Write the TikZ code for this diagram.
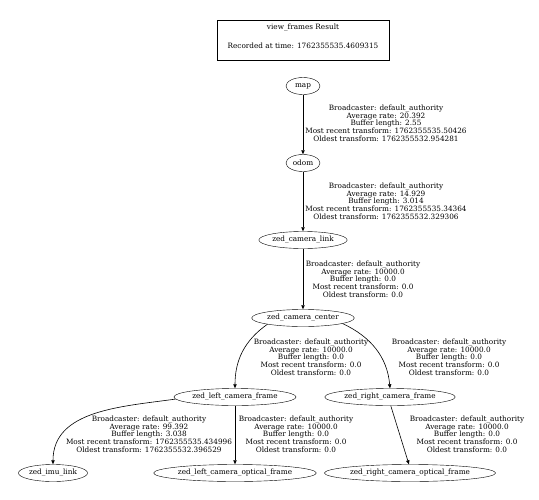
\documentclass[tikz,border=0pt]{standalone}
\usepackage{fontspec}
\setmainfont{DejaVu Serif}
\usetikzlibrary{arrows.meta,shapes.geometric}

\newcommand{\tfsize}{\fontsize{7.3}{7.7}\selectfont}
\newcommand{\tfinfo}[4]{Broadcaster: default\_authority\\Average rate: #1\\Buffer length: #2\\Most recent transform: #3\\Oldest transform: #4}

\tikzset{
	frame/.style={draw, ellipse, inner xsep=0.5pt, inner ysep=0pt, minimum height=17pt, minimum width=34pt, font=\tfsize},
	tf/.style={align=center, font=\tfsize},
	link/.style={-{Triangle[length=4pt,width=3.4pt]}, line width=0.6pt},
}

\begin{document}
\begin{tikzpicture}[x=1pt,y=-1pt]
	\useasboundingbox (0,0) rectangle (539,499);
	\node[draw, thick, minimum width=172pt, minimum height=39pt, align=center, font=\tfsize] (title) at (303,40.5) {view\_frames Result\\[10.6pt]Recorded at time: 1762355535.4609315\\[1pt]\mbox{}};
	% frames
	\node[frame] (map) at (303,86) {map};
	\node[frame] (odom) at (303,163) {odom};
	\node[frame] (zlink) at (303,240) {zed\_camera\_link};
	\node[frame] (zcenter) at (303,318) {zed\_camera\_center};
	\node[frame] (lframe) at (235,397) {zed\_left\_camera\_frame};
	\node[frame] (rframe) at (390,397) {zed\_right\_camera\_frame};
	\node[frame] (imu) at (53,473) {zed\_imu\_link};
	\node[frame] (lopt) at (235,473) {zed\_left\_camera\_optical\_frame};
	\node[frame] (ropt) at (410,473) {zed\_right\_camera\_optical\_frame};
	% transforms
	\draw[link] (map) -- (odom);
	\draw[link] (odom) -- (zlink);
	\draw[link] (zlink) -- (zcenter);
	\draw[link] (zcenter.190) to[out=215,in=90] (lframe.north);
	\draw[link] (zcenter.-8) to[out=-25,in=95] (rframe.north);
	\draw[link] (lframe.182) to[out=188,in=90] (imu.north);
	\draw[link] (lframe) -- (lopt);
	\draw[link] (rframe.-85) -- (ropt.97);
	% edge labels
	\node[tf] (tmap) at (386,123) {\tfinfo{20.392}{2.55}{1762355535.50426}{1762355532.954281}};
	\node[tf] (todom) at (386,201) {\tfinfo{14.929}{3.014}{1762355535.34364}{1762355532.329306}};
	\node[tf] (tlink) at (363,279) {\tfinfo{10000.0}{0.0}{0.0}{0.0}};
	\node[tf] (tleft) at (311,357) {\tfinfo{10000.0}{0.0}{0.0}{0.0}};
	\node[tf] (tright) at (449,357) {\tfinfo{10000.0}{0.0}{0.0}{0.0}};
	\node[tf] (timu) at (149,434) {\tfinfo{99.392}{3.038}{1762355535.434996}{1762355532.396529}};
	\node[tf] (tlopt) at (296,434) {\tfinfo{10000.0}{0.0}{0.0}{0.0}};
	\node[tf] (tropt) at (467,434) {\tfinfo{10000.0}{0.0}{0.0}{0.0}};
\end{tikzpicture}
\end{document}
